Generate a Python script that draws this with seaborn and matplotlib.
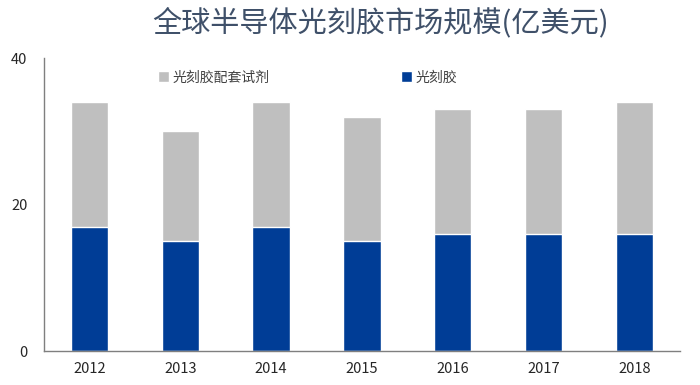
import pandas as pd
import matplotlib
matplotlib.use("Agg")
import matplotlib.pyplot as plt
import seaborn as sns

years = ["2012", "2013", "2014", "2015", "2016", "2017", "2018"]
photoresist = [17, 15, 17, 15, 16, 16, 16]
reagents = [17, 15, 17, 17, 17, 17, 18]

total = [a + b for a, b in zip(photoresist, reagents)]
df = pd.DataFrame({"year": years, "photoresist": photoresist, "total": total})

sns.set_style("white")
plt.rcParams["font.family"] = ["Noto Sans CJK SC", "DejaVu Sans"]

fig = plt.figure(figsize=(7, 3.85), dpi=100)
ax = fig.add_axes([0.063, 0.088, 0.908, 0.761])

grey = "#bfbfbf"
blue = "#003d96"

sns.barplot(data=df, x="year", y="total", color=grey, width=0.41,
            saturation=1, ax=ax, label="光刻胶配套试剂")
sns.barplot(data=df, x="year", y="photoresist", color=blue, width=0.41,
            saturation=1, ax=ax, label="光刻胶")

ax.set_xlim(-0.5, 6.5)
ax.set_ylim(0, 40)
ax.set_yticks([0, 20, 40])
ax.set_xlabel("")
ax.set_ylabel("")

for s in ["top", "right"]:
    ax.spines[s].set_visible(False)
for s in ["left", "bottom"]:
    ax.spines[s].set_color("#7f7f7f")
    ax.spines[s].set_linewidth(1.0)

ax.tick_params(axis="x", which="major", length=0, pad=8, labelsize=10.5,
               labelcolor="#262626")
ax.set_xticks([i + 0.5 for i in range(7)], minor=True)
ax.tick_params(axis="x", which="minor", direction="in", length=5,
               color="#7f7f7f")
ax.tick_params(axis="y", direction="in", length=5, color="#7f7f7f",
               labelsize=10.5, labelcolor="#262626", pad=12)

leg = ax.legend(loc="upper left", bbox_to_anchor=(0.16, 1.0), ncol=2,
                frameon=False, fontsize=10, handlelength=0.8,
                handleheight=0.8, handletextpad=0.2, columnspacing=9.5,
                labelcolor="#404040")

fig.text(0.543, 0.94, "全球半导体光刻胶市场规模(亿美元)", ha="center", va="center",
         fontsize=21, color="#3f5069")

fig.savefig("out.png", dpi=100)
